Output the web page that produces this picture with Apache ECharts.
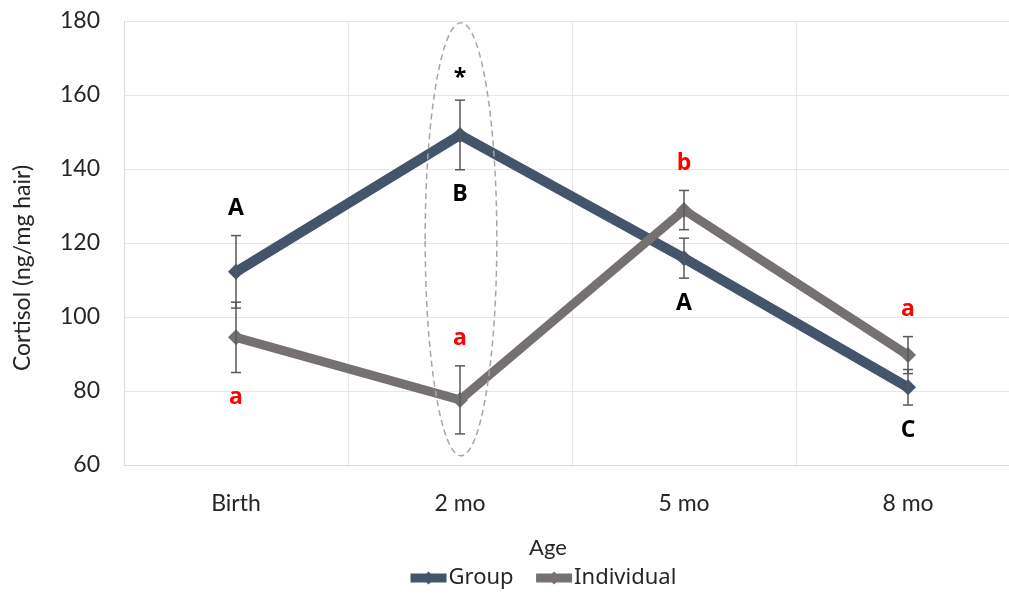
<!DOCTYPE html>
<html>
<head>
<meta charset="utf-8">
<script src="https://cdn.jsdelivr.net/npm/echarts@6/dist/echarts.min.js"></script>
<style>
  * { margin: 0; padding: 0; }
  html, body { background: #fff; }
  #chart-container { width: 1009px; height: 597px; }
</style>
</head>
<body>
<div id="chart-container"></div>
<script>
  var ages = ['Birth', '2 mo', '5 mo', '8 mo']
  var yTicks = [60, 80, 100, 120, 140, 160, 180]

  var groupMean = [112.2, 149.2, 115.9, 81.0]
  var groupErr = [9.8, 9.4, 5.4, 4.8]
  var groupTop = ['A', '*', '', '']
  var groupBottom = ['', 'B', 'A', 'C']

  var indMean = [94.5, 77.6, 128.9, 89.7]
  var indErr = [9.5, 9.2, 5.3, 5.0]
  var indTop = ['', 'a', 'b', 'a']
  var indBottom = ['a', '', '', '']

  // dashed ellipse round the 2 mo column: [category, low, high]
  var highlight = [[1, 62.5, 179.5]]

  var groupColor = '#44546A'
  var indColor = '#767171'

  function errData(mean, err, top, bottom) {
    return mean.map(function (m, i) {
      return [i, m - err[i], m + err[i], top[i], bottom[i]]
    })
  }

  function makeErrorSeries(name, mean, err, top, bottom, textColor) {
    return {
      name: name + ' err',
      type: 'custom',
      z: 5,
      data: errData(mean, err, top, bottom),
      renderItem: function (params, api) {
        var i = api.value(0)
        var lo = api.coord([i, api.value(1)])
        var hi = api.coord([i, api.value(2)])
        var cap = 5
        var style = { stroke: '#595959', lineWidth: 1.5 }
        var children = [
          { type: 'line', shape: { x1: lo[0], y1: lo[1], x2: hi[0], y2: hi[1] }, style: style },
          { type: 'line', shape: { x1: lo[0] - cap, y1: lo[1], x2: lo[0] + cap, y2: lo[1] }, style: style },
          { type: 'line', shape: { x1: hi[0] - cap, y1: hi[1], x2: hi[0] + cap, y2: hi[1] }, style: style },
        ]
        var t = params.dataIndex
        var topText = top[t]
        var botText = bottom[t]
        if (topText) {
          children.push({
            type: 'text',
            x: hi[0], y: hi[1] - (topText === '*' ? 22 : 27),
            style: {
              text: topText, fill: textColor, font: 'bold 23px "Open Sans"',
              align: 'center', verticalAlign: 'middle',
            },
          })
        }
        if (botText) {
          children.push({
            type: 'text',
            x: lo[0], y: lo[1] + 25,
            style: {
              text: botText, fill: textColor, font: 'bold 23px "Open Sans"',
              align: 'center', verticalAlign: 'middle',
            },
          })
        }
        return { type: 'group', children: children }
      },
    }
  }

  var chart = echarts.init(document.getElementById('chart-container'), null, { renderer: 'canvas' })

  var option = {
    animation: false,
    grid: { left: 124, right: -11, top: 21, bottom: 132, outerBoundsMode: 'none', containLabel: false },
    legend: {
      top: 567,
      left: 406,
      padding: 0,
      data: ['Group', 'Individual'],
      itemWidth: 36,
      itemHeight: 16,
      itemGap: 18,
      lineStyle: { width: 9 },
      textStyle: { fontFamily: 'Noto Sans', fontSize: 22, color: '#262626', padding: [0, 0, 0, -3] },
    },
    xAxis: {
      type: 'category',
      data: ages,
      boundaryGap: true,
      name: 'Age',
      nameLocation: 'middle',
      nameGap: 72,
      nameTextStyle: { fontFamily: 'Lato', fontSize: 22, color: '#262626', padding: [0, 48, 0, 0] },
      axisLine: { lineStyle: { color: '#d9d9d9' } },
      axisTick: { show: false },
      axisLabel: { fontFamily: 'Lato', fontSize: 23, color: '#262626', margin: 27 },
      splitLine: { show: true, lineStyle: { color: '#e6e6e6' } },
    },
    yAxis: {
      type: 'value',
      min: yTicks[0],
      max: yTicks[yTicks.length - 1],
      interval: 20,
      name: 'Cortisol (ng/mg hair)',
      nameLocation: 'middle',
      nameGap: 90,
      nameRotate: 90,
      nameTextStyle: { fontFamily: 'Lato', fontSize: 23, color: '#262626', padding: [0, 0, 0, -50] },
      axisLine: { show: true, lineStyle: { color: '#d9d9d9' } },
      axisTick: { show: false },
      axisLabel: { fontFamily: 'Lato', fontSize: 23, color: '#262626', margin: 24 },
      splitLine: { lineStyle: { color: '#e6e6e6' } },
    },
    series: [
      {
        name: 'Group',
        type: 'line',
        data: groupMean,
        symbol: 'diamond',
        symbolSize: 16,
        itemStyle: { color: groupColor },
        lineStyle: { color: groupColor, width: 10 },
        z: 3,
      },
      {
        name: 'Individual',
        type: 'line',
        data: indMean,
        symbol: 'diamond',
        symbolSize: 16,
        itemStyle: { color: indColor },
        lineStyle: { color: indColor, width: 9 },
        z: 3,
      },
      makeErrorSeries('Group', groupMean, groupErr, groupTop, groupBottom, '#000'),
      makeErrorSeries('Individual', indMean, indErr, indTop, indBottom, '#ff0000'),
      {
        name: 'highlight',
        type: 'custom',
        z: 10,
        silent: true,
        data: highlight,
        renderItem: function (params, api) {
          var i = api.value(0)
          var lo = api.coord([i, api.value(1)])
          var hi = api.coord([i, api.value(2)])
          var band = api.size([1, 0])[0]
          return {
            type: 'ellipse',
            shape: {
              cx: hi[0] + 1,
              cy: (lo[1] + hi[1]) / 2,
              rx: band * 0.16,
              ry: (lo[1] - hi[1]) / 2,
            },
            style: { fill: 'none', stroke: '#a6a6a6', lineWidth: 1.5, lineDash: [6, 4] },
          }
        },
      },
    ],
  }
  chart.setOption(option)
</script>
</body>
</html>
